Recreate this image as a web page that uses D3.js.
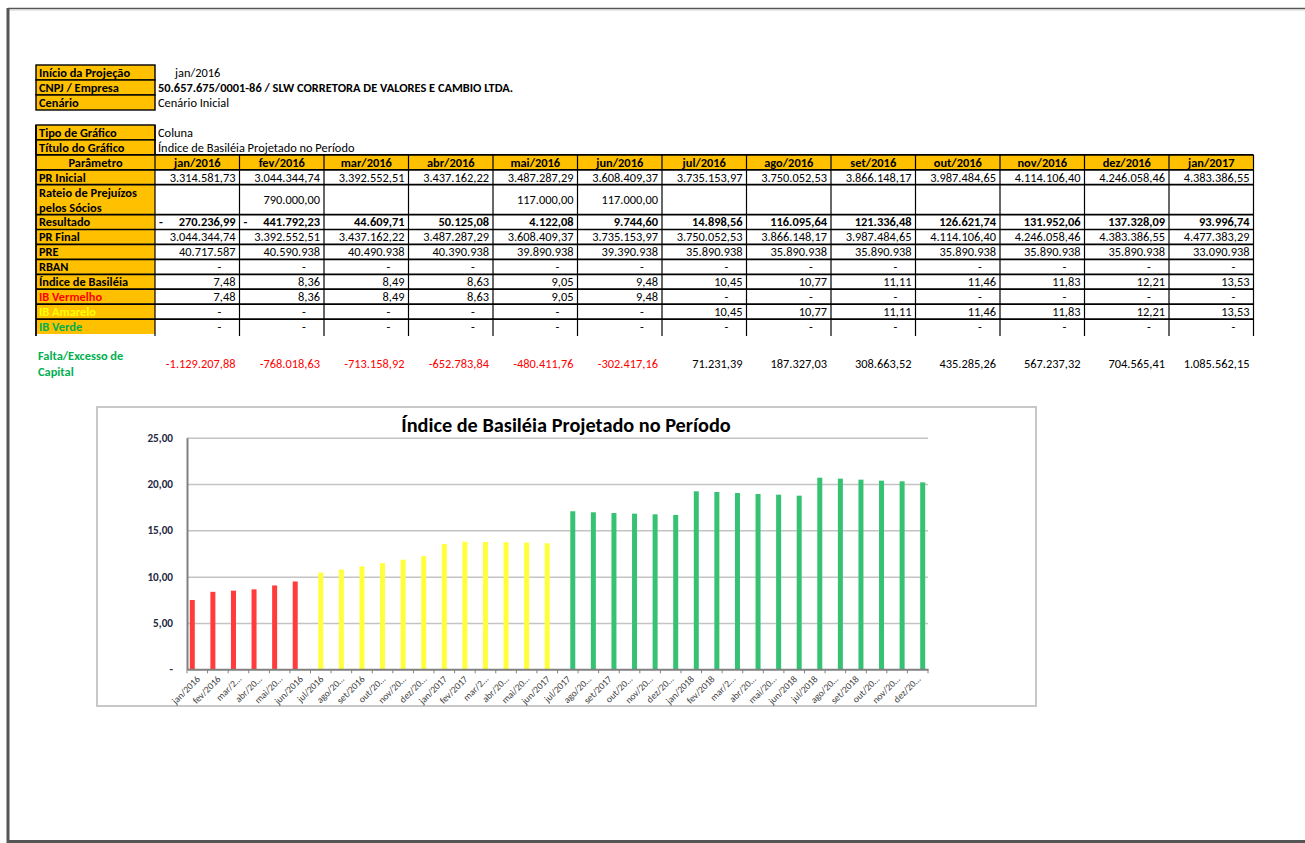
<!DOCTYPE html>
<html>
<head>
<meta charset="utf-8">
<script src="https://cdn.jsdelivr.net/npm/d3@7"></script>
<style>
  body { margin: 0; background: #fff; }
  svg { display: block; font-family: Carlito, Lato, sans-serif; }
</style>
</head>
<body>
<svg id="sheet"></svg>
<script>
// header info
const projStart = "jan/2016";
const empresa = "50.657.675/0001-86 / SLW CORRETORA DE VALORES E CAMBIO LTDA.";
const cenario = "Cenário Inicial";
const tipoGrafico = "Coluna";
const tituloGrafico = "Índice de Basiléia Projetado no Período";

// table values
const tableMonths = ["jan/2016", "fev/2016", "mar/2016", "abr/2016", "mai/2016", "jun/2016", "jul/2016",
    "ago/2016", "set/2016", "out/2016", "nov/2016", "dez/2016", "jan/2017"];
const prInicial = [3314581.73, 3044344.74, 3392552.51, 3437162.22, 3487287.29, 3608409.37, 3735153.97,
    3750052.53, 3866148.17, 3987484.65, 4114106.40, 4246058.46, 4383386.55];
const rateio = [null, 790000, null, null, 117000, 117000, null, null, null, null, null, null, null];
const resultado = [-270236.99, -441792.23, 44609.71, 50125.08, 4122.08, 9744.60, 14898.56,
    116095.64, 121336.48, 126621.74, 131952.06, 137328.09, 93996.74];
const prFinal = [3044344.74, 3392552.51, 3437162.22, 3487287.29, 3608409.37, 3735153.97, 3750052.53,
    3866148.17, 3987484.65, 4114106.40, 4246058.46, 4383386.55, 4477383.29];
const pre = [40717587, 40590938, 40490938, 40390938, 39890938, 39390938, 35890938,
    35890938, 35890938, 35890938, 35890938, 35890938, 33090938];
const rban = [0, 0, 0, 0, 0, 0, 0, 0, 0, 0, 0, 0, 0];
const indiceBasileia = [7.48, 8.36, 8.49, 8.63, 9.05, 9.48, 10.45, 10.77, 11.11, 11.46, 11.83, 12.21, 13.53];
const ibVermelho = [7.48, 8.36, 8.49, 8.63, 9.05, 9.48, 0, 0, 0, 0, 0, 0, 0];
const ibAmarelo = [0, 0, 0, 0, 0, 0, 10.45, 10.77, 11.11, 11.46, 11.83, 12.21, 13.53];
const ibVerde = [0, 0, 0, 0, 0, 0, 0, 0, 0, 0, 0, 0, 0];
const faltaExcesso = [-1129207.88, -768018.63, -713158.92, -652783.84, -480411.76, -302417.16, 71231.39,
    187327.03, 308663.52, 435285.26, 567237.32, 704565.41, 1085562.15];

// chart values
const chartMonths = ["jan/2016", "fev/2016", "mar/2016", "abr/2016", "mai/2016", "jun/2016",
    "jul/2016", "ago/2016", "set/2016", "out/2016", "nov/2016", "dez/2016",
    "jan/2017", "fev/2017", "mar/2017", "abr/2017", "mai/2017", "jun/2017",
    "jul/2017", "ago/2017", "set/2017", "out/2017", "nov/2017", "dez/2017",
    "jan/2018", "fev/2018", "mar/2018", "abr/2018", "mai/2018", "jun/2018",
    "jul/2018", "ago/2018", "set/2018", "out/2018", "nov/2018", "dez/2018"];
const chartTickLabels = ["jan/2016", "fev/2016", "mar/2…", "abr/20…", "mai/20…", "jun/2016",
    "jul/2016", "ago/20…", "set/2016", "out/20…", "nov/20…", "dez/20…",
    "jan/2017", "fev/2017", "mar/2…", "abr/20…", "mai/20…", "jun/2017",
    "jul/2017", "ago/20…", "set/2017", "out/20…", "nov/20…", "dez/20…",
    "jan/2018", "fev/2018", "mar/2…", "abr/20…", "mai/20…", "jun/2018",
    "jul/2018", "ago/20…", "set/2018", "out/20…", "nov/20…", "dez/20…"];
const chartVermelho = [7.48, 8.36, 8.49, 8.63, 9.05, 9.48, 0, 0, 0, 0, 0, 0,
    0, 0, 0, 0, 0, 0, 0, 0, 0, 0, 0, 0,
    0, 0, 0, 0, 0, 0, 0, 0, 0, 0, 0, 0];
const chartAmarelo = [0, 0, 0, 0, 0, 0, 10.45, 10.77, 11.11, 11.46, 11.83, 12.21,
    13.53, 13.77, 13.74, 13.71, 13.67, 13.60, 0, 0, 0, 0, 0, 0,
    0, 0, 0, 0, 0, 0, 0, 0, 0, 0, 0, 0];
const chartVerde = [0, 0, 0, 0, 0, 0, 0, 0, 0, 0, 0, 0,
    0, 0, 0, 0, 0, 0, 17.06, 16.95, 16.87, 16.80, 16.73, 16.66,
    19.21, 19.14, 19.03, 18.92, 18.85, 18.74, 20.68, 20.58, 20.47, 20.36, 20.29, 20.18];
const yTicks = [0, 5, 10, 15, 20, 25];

const ORANGE = "#ffc000";
const W = 1305, H = 843;
const FS = 12.4; // spreadsheet font size

const ptBR = d3.formatLocale({ decimal: ",", thousands: ".", grouping: [3], currency: ["R$", ""], minus: "-" });
const fmt2 = ptBR.format(",.2f");
const fmt0 = ptBR.format(",.0f");

const svg = d3.select("#sheet").attr("width", W).attr("height", H);

//page frame
svg.append("line").attr("x1", 8).attr("x2", W).attr("y1", 8.5).attr("y2", 8.5)
    .style("stroke", "#555").style("stroke-width", 1.5);
svg.append("line").attr("x1", 8).attr("x2", W).attr("y1", 10.5).attr("y2", 10.5)
    .style("stroke", "#e6e6e6").style("stroke-width", 1);
svg.append("line").attr("x1", 8).attr("x2", 8).attr("y1", 8).attr("y2", H)
    .style("stroke", "#555").style("stroke-width", 3);
svg.append("line").attr("x1", 8).attr("x2", W).attr("y1", 841.5).attr("y2", 841.5)
    .style("stroke", "#555").style("stroke-width", 3);

const labelX0 = 36, labelX1 = 155;
const colX = d3.scaleBand().domain(tableMonths).range([labelX1, 1253.5]);
const headY = d3.scaleLinear().domain([0, 3]).range([65, 110]);
const rowY = d3.scaleLinear().domain([0, 14]).range([125, 334]);

function text(g, x, y, str, opts = {}) {
    return g.append("text")
        .attr("x", x).attr("y", y)
        .attr("text-anchor", opts.anchor || "start")
        .style("font-size", (opts.size || FS) + "px")
        .style("font-weight", opts.bold ? "bold" : "normal")
        .style("fill", opts.color || "#000")
        .text(str);
}

//top info block
const head = svg.append("g");
const headRows = [
    { label: "Início da Projeção", value: projStart, x: 175, bold: false },
    { label: "CNPJ / Empresa", value: empresa, x: 158, bold: true },
    { label: "Cenário", value: cenario, x: 158, bold: false }
];
headRows.forEach((r, i) => {
    head.append("rect").attr("x", labelX0).attr("y", headY(i))
        .attr("width", labelX1 - labelX0).attr("height", headY(i + 1) - headY(i))
        .style("fill", ORANGE).style("stroke", "#000").style("stroke-width", 1.4);
    const cy = (headY(i) + headY(i + 1)) / 2 + 4.3;
    text(head, labelX0 + 3, cy, r.label, { bold: true });
    text(head, r.x, cy, r.value, { bold: r.bold });
});

//table
const table = svg.append("g");
const metaRows = [
    { label: "Tipo de Gráfico", value: tipoGrafico },
    { label: "Título do Gráfico", value: tituloGrafico }
];
metaRows.forEach((r, i) => {
    table.append("rect").attr("x", labelX0).attr("y", rowY(i))
        .attr("width", labelX1 - labelX0).attr("height", rowY(i + 1) - rowY(i))
        .style("fill", ORANGE).style("stroke", "#000").style("stroke-width", 1.4);
    const cy = (rowY(i) + rowY(i + 1)) / 2 + 4.3;
    text(table, labelX0 + 3, cy, r.label, { bold: true });
    text(table, 158, cy, r.value);
});

const dataRows = [
    { label: ["PR Inicial"], values: prInicial, kind: "num" },
    { label: ["Rateio de Prejuízos", "pelos Sócios"], values: rateio, kind: "num", span: 2 },
    { label: ["Resultado"], values: resultado, kind: "acct" },
    { label: ["PR Final"], values: prFinal, kind: "num" },
    { label: ["PRE"], values: pre, kind: "int" },
    { label: ["RBAN"], values: rban, kind: "dash" },
    { label: ["Índice de Basiléia"], values: indiceBasileia, kind: "dash" },
    { label: ["IB Vermelho"], values: ibVermelho, kind: "dash", color: "#ff0000" },
    { label: ["IB Amarelo"], values: ibAmarelo, kind: "dash", color: "#ffff00" },
    { label: ["IB Verde"], values: ibVerde, kind: "dash", color: "#00b050" }
];
let u = 3;
dataRows.forEach(r => { r.u0 = u; u += (r.span || 1); r.u1 = u; });

// fills
table.append("rect").attr("x", labelX0).attr("y", rowY(2))
    .attr("width", colX.range()[1] - labelX0).attr("height", rowY(3) - rowY(2))
    .style("fill", ORANGE);
table.append("rect").attr("x", labelX0).attr("y", rowY(3))
    .attr("width", labelX1 - labelX0).attr("height", rowY(14) - rowY(3))
    .style("fill", ORANGE);

// header row
text(table, (labelX0 + labelX1) / 2, (rowY(2) + rowY(3)) / 2 + 4.3, "Parâmetro", { bold: true, anchor: "middle" });
table.selectAll("text.month")
    .data(tableMonths)
    .enter()
    .append("text")
    .attr("class", "month")
    .attr("x", d => colX(d) + colX.bandwidth() / 2)
    .attr("y", (rowY(2) + rowY(3)) / 2 + 4.3)
    .attr("text-anchor", "middle")
    .style("font-size", FS + "px")
    .style("font-weight", "bold")
    .text(d => d);

// rows
dataRows.forEach(r => {
    const y0 = rowY(r.u0), y1 = rowY(r.u1);
    const cy = (y0 + y1) / 2 + 4.3;
    if (r.label.length === 1) {
        text(table, labelX0 + 3, cy, r.label[0], { bold: true, color: r.color });
    } else {
        r.label.forEach((l, k) => text(table, labelX0 + 3, y0 + 11.8 + k * 15, l, { bold: true, color: r.color }));
    }
    r.values.forEach((v, i) => {
        const right = colX(tableMonths[i]) + colX.bandwidth();
        if (v === null) return;
        if (r.kind === "dash" && v === 0) {
            text(table, right - 20, cy, "-", { anchor: "middle" });
            return;
        }
        if (r.kind === "acct") {
            if (v < 0) text(table, colX(tableMonths[i]) + 4, cy, "-", { bold: true });
            text(table, right - 4, cy, fmt2(Math.abs(v)), { bold: true, anchor: "end" });
            return;
        }
        text(table, right - 4, cy, r.kind === "int" ? fmt0(v) : fmt2(v), { anchor: "end" });
    });
});

// grid lines (no line inside the two-unit rateio row)
const hLines = d3.range(2, 14).filter(d => d !== 5);
table.selectAll("line.h")
    .data(hLines)
    .enter()
    .append("line")
    .attr("x1", labelX0).attr("x2", colX.range()[1])
    .attr("y1", d => rowY(d)).attr("y2", d => rowY(d))
    .style("stroke", "#000").style("stroke-width", 1.7);

const vEdges = [labelX0, labelX1].concat(tableMonths.map(m => colX(m) + colX.bandwidth()));
table.selectAll("line.v")
    .data(vEdges)
    .enter()
    .append("line")
    .attr("x1", d => d).attr("x2", d => d)
    .attr("y1", (d, i) => i < 2 ? rowY(0) : rowY(2))
    .attr("y2", rowY(14) + 2)
    .style("stroke", "#000").style("stroke-width", (d, i) => i === 0 ? 1.8 : 1.2);

// falta / excesso de capital
text(svg, 38, 360, "Falta/Excesso de", { bold: true, color: "#00b050" });
text(svg, 38, 375.5, "Capital", { bold: true, color: "#00b050" });
svg.selectAll("text.falta")
    .data(faltaExcesso)
    .enter()
    .append("text")
    .attr("class", "falta")
    .attr("x", (d, i) => colX(tableMonths[i]) + colX.bandwidth() - 4)
    .attr("y", 367.5)
    .attr("text-anchor", "end")
    .style("font-size", FS + "px")
    .style("fill", d => d < 0 ? "#ff0000" : "#000")
    .text(d => fmt2(d));

//chart
const chart = svg.append("g");
chart.append("rect").attr("x", 97).attr("y", 407).attr("width", 939).attr("height", 299)
    .style("fill", "#fff").style("stroke", "#c8c8c8").style("stroke-width", 2);

chart.append("text")
    .attr("x", 566).attr("y", 432)
    .attr("text-anchor", "middle")
    .style("font-size", "20.3px")
    .style("font-weight", "bold")
    .text(tituloGrafico);

const plotL = 187, plotR = 928;
const x0 = d3.scaleBand().domain(chartMonths).range([plotL, plotR]);
const seriesNames = ["IB Vermelho", "IB Amarelo", "IB Verde"];
const seriesColor = d3.scaleOrdinal().domain(seriesNames).range(["#ff3b3b", "#ffff3c", "#35c272"]);
const x1 = d3.scaleBand().domain(seriesNames).range([0, x0.bandwidth()]).paddingOuter(0.56);
const y = d3.scaleLinear().domain([0, 25]).range([669.3, 437.7]);

//grid
const gridG = chart.append("g").attr("transform", `translate(${plotL},0)`);
d3.axisLeft(y).tickValues(yTicks.slice(1)).tickSize(-(plotR - plotL)).tickFormat("")(gridG);
gridG.select(".domain").remove();
gridG.selectAll("line").style("stroke", "#c4c4c4").style("stroke-width", 1.5);

//bars
const barData = [];
chartMonths.forEach((m, i) => {
    [chartVermelho, chartAmarelo, chartVerde].forEach((arr, k) => {
        if (arr[i] > 0) barData.push({ month: m, series: seriesNames[k], value: arr[i] });
    });
});
chart.selectAll("rect.bar")
    .data(barData)
    .enter()
    .append("rect")
    .attr("class", "bar")
    .attr("x", d => x0(d.month) + x1(d.series))
    .attr("width", x1.bandwidth())
    .attr("y", d => y(d.value))
    .attr("height", d => y(0) - y(d.value))
    .style("fill", d => seriesColor(d.series));

//y axis
const yAxisG = chart.append("g").attr("transform", `translate(${plotL},0)`);
d3.axisLeft(y).tickValues(yTicks).tickSize(0).tickPadding(14)
    .tickFormat(d => d === 0 ? "-" : fmt2(d))(yAxisG);
yAxisG.select(".domain").style("stroke", "#808080").style("stroke-width", 2);
yAxisG.selectAll("text")
    .style("font-family", "Carlito, Lato, sans-serif")
    .style("font-size", "11.2px")
    .style("font-weight", "bold")
    .style("fill", "#1f2a44");

//x axis
const xAxisG = chart.append("g").attr("transform", `translate(0,${y(0)})`);
d3.axisBottom(x0).tickSize(0).tickFormat((d, i) => chartTickLabels[i])(xAxisG);
xAxisG.select(".domain").style("stroke", "#808080").style("stroke-width", 2);
xAxisG.selectAll("text")
    .attr("x", 0).attr("y", 0).attr("dy", "0.35em")
    .attr("transform", "translate(1,8) rotate(-45)")
    .style("text-anchor", "end")
    .style("font-family", "Carlito, Lato, sans-serif")
    .style("font-size", "9.6px")
    .style("fill", "#404040");
const boundaries = chartMonths.map(m => x0(m)).concat([plotR]);
xAxisG.selectAll("line.bound")
    .data(boundaries)
    .enter()
    .append("line")
    .attr("class", "bound")
    .attr("x1", d => d).attr("x2", d => d)
    .attr("y1", 0).attr("y2", 4)
    .style("stroke", "#808080").style("stroke-width", 1);
</script>
</body>
</html>
